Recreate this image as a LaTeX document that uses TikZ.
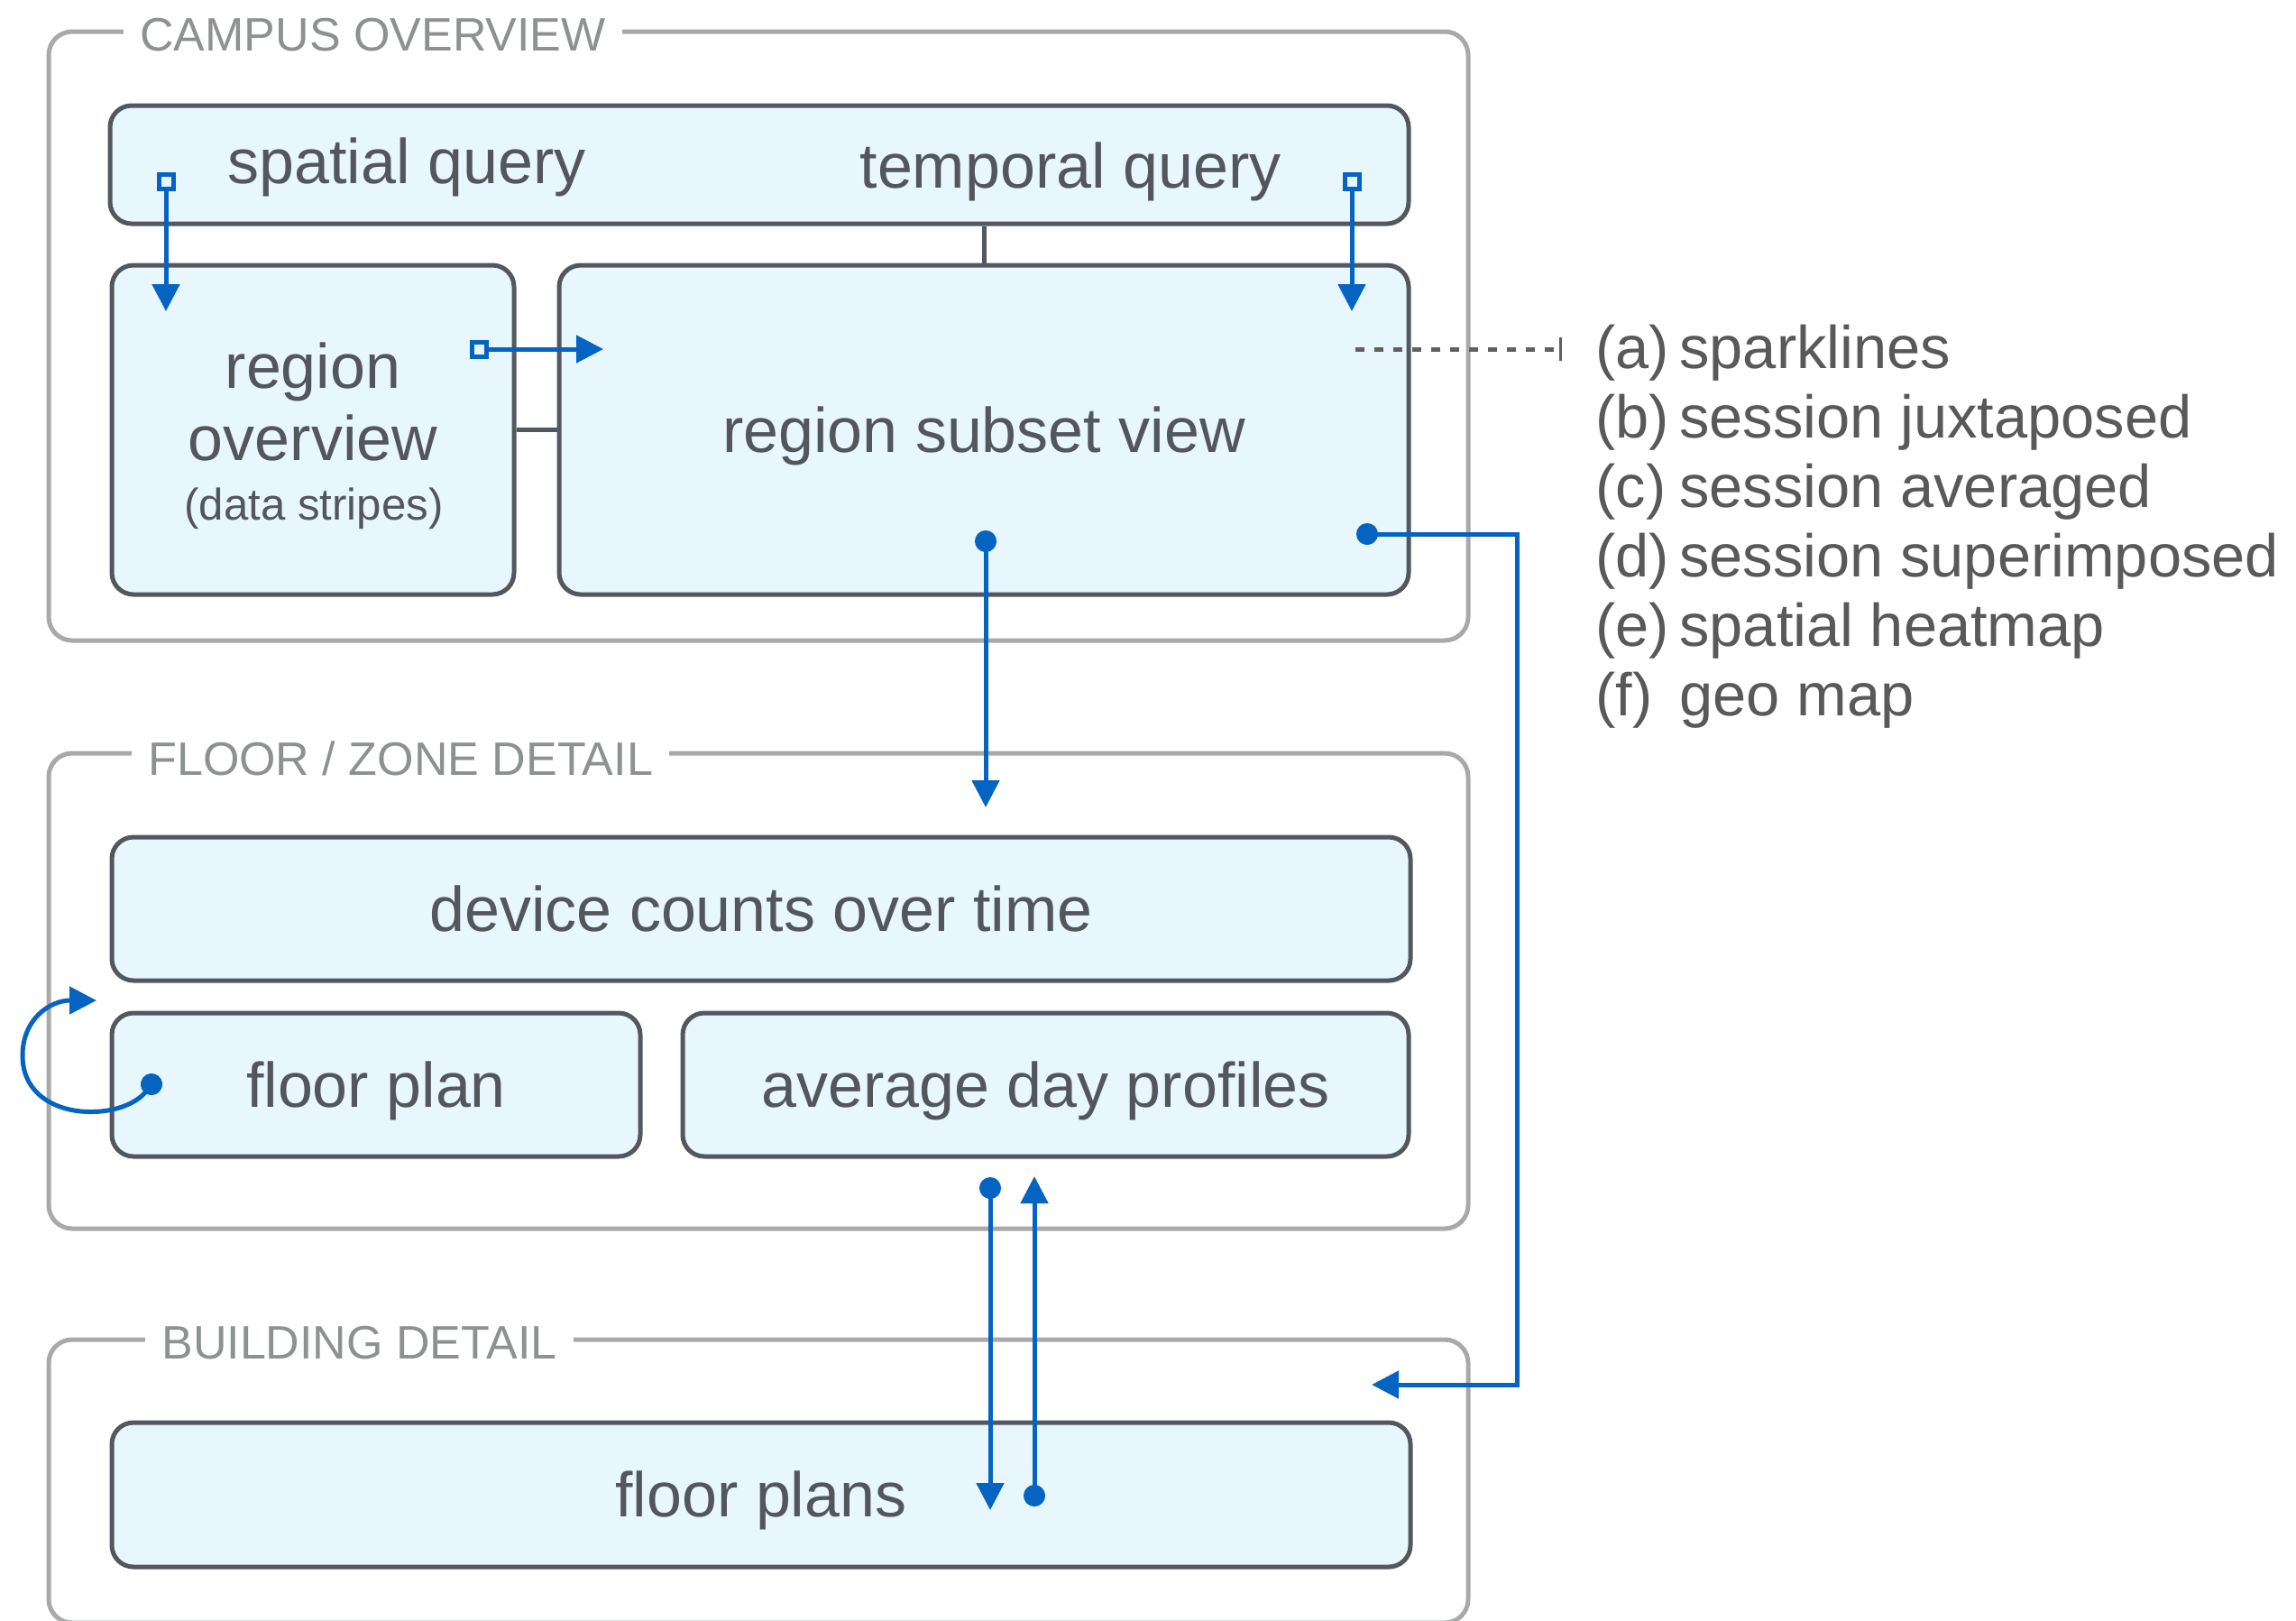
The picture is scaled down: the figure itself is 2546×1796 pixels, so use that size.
\documentclass[tikz,border=0pt]{standalone}
\usepackage{fontspec}
\setmainfont{Liberation Sans}
\usetikzlibrary{arrows.meta,calc}
\definecolor{boxfill}{HTML}{E8F6FE}
\definecolor{boxline}{HTML}{53575E}
\definecolor{frameline}{HTML}{A8AAA9}
\definecolor{titlegray}{HTML}{8E9192}
\definecolor{txt}{HTML}{52575D}
\definecolor{legtxt}{HTML}{595959}
\definecolor{linkblue}{HTML}{0563C1}
\definecolor{dotgray}{HTML}{5F6064}
\begin{document}
\begin{tikzpicture}[x=0.5pt,y=-0.5pt,
  frame/.style={draw=frameline, line width=2.5pt, rounded corners=13pt, inner sep=0pt},
  title/.style={fill=white, text=titlegray, font=\fontsize{26}{30}\selectfont, inner xsep=9pt, inner ysep=2pt},
  box/.style={draw=boxline, fill=boxfill, line width=2.5pt, rounded corners=12pt, inner sep=0pt},
  boxtext/.style={text=txt, font=\fontsize{35}{42}\selectfont, text height=30pt, text depth=5.5pt},
  lbl/.style={text=txt, font=\fontsize{35}{42}\selectfont, inner sep=0pt},
  smalllbl/.style={text=txt, font=\fontsize{24.6}{30}\selectfont, inner sep=0pt},
  legk/.style={text=legtxt, font=\fontsize{33.4}{40}\selectfont, inner sep=0pt},
  link/.style={draw=boxline, line width=2.5pt},
  flow/.style={draw=linkblue, line width=2.5pt},
  sqstart/.style={{Square[open,length=10.5pt,width=10.5pt]}-{Triangle[length=15pt,width=15pt]}, shorten <=-5.25pt},
  dotstart/.style={{Circle[length=12pt]}-{Triangle[length=15pt,width=15pt]}, shorten <=-6pt},
  dotlink/.style={draw=dotgray, line width=2.5pt, dash pattern=on 5pt off 5.5pt, -{Bar[width=13pt,line width=1.6pt]}}
]
\useasboundingbox (0,0) rectangle (2546,1796);

% frames
\node[frame, minimum width=787pt, minimum height=337.5pt] (campus) at (841,372.5) {};
\node[frame, minimum width=787pt, minimum height=263.5pt] (floorzone) at (841,1098.5) {};
\node[frame, minimum width=787pt, minimum height=157pt] (building) at (841,1642) {};
\node[title, anchor=base west] (tcampus) at (137,56) {CAMPUS OVERVIEW};
\node[title, anchor=base west] (tfloor) at (146,859) {FLOOR / ZONE DETAIL};
\node[title, anchor=base west] (tbuild) at (161,1506) {BUILDING DETAIL};

% boxes
\node[box, minimum width=720pt, minimum height=65.5pt] (query) at (842,182.5) {};
\node[lbl, anchor=base] (qs) at (451,203) {spatial query};
\node[lbl, anchor=base] (qt) at (1187,208) {temporal query};

\node[box, minimum width=223pt, minimum height=182.5pt] (overview) at (347,476.5) {};
\node[lbl, anchor=base] (ov1) at (347,430) {region};
\node[lbl, anchor=base] (ov2) at (347,510) {overview};
\node[smalllbl, anchor=base] (ov3) at (348,576) {(data stripes)};

\node[box, boxtext, minimum width=471pt, minimum height=182.5pt] (subset) at (1091,476.5) {region subset view};

\node[box, boxtext, minimum width=720pt, minimum height=79.5pt] (device) at (844,1007.5) {device counts over time};
\node[box, boxtext, minimum width=293pt, minimum height=79.5pt] (floorplan) at (417,1202.5) {floor plan};
\node[box, boxtext, minimum width=402.5pt, minimum height=79.5pt] (avgday) at (1159.5,1202.5) {average day profiles};
\node[box, boxtext, minimum width=720pt, minimum height=80pt] (floorplans) at (844,1657) {floor plans};

% gray structural links
\draw[link] (subset.north) -- (subset.north |- query.south);
\draw[link] (overview.east) -- (subset.west);

% legend
\foreach \k/\w [count=\i from 0] in {a/sparklines, b/session juxtaposed, c/session averaged, d/session superimposed, e/spatial heatmap, f/geo map} {
  \node[legk, anchor=base west] (lk\k) at (1769,{408+77*\i}) {(\k)};
  \node[legk, anchor=base west] (lw\k) at (1862,{408+77*\i}) {\w};
}

% connector end points
\coordinate (sqA) at (184,201);
\coordinate (tipA) at (184,345);
\coordinate (sqB) at (1499,201);
\coordinate (tipB) at (1499,345);
\coordinate (sqC) at (531,387);
\coordinate (tipC) at (669,387);
\coordinate (dsS) at (1503,387);
\coordinate (dsE) at (1732,387);
\coordinate (dotD) at (1516,592);
\coordinate (bendD) at (1682,1535);
\coordinate (tipD) at (1521,1535);
\coordinate (dotE) at (1093,600);
\coordinate (tipE) at (1093,895);
\coordinate (dotF) at (168,1202);
\coordinate (tipF) at (107,1109);
\coordinate (dotG) at (1098,1317);
\coordinate (tipG) at (1098,1674);
\coordinate (dotH) at (1147,1658);
\coordinate (tipH) at (1147,1304);

% blue flows
\draw[flow, sqstart] (sqA) -- (tipA);
\draw[flow, sqstart] (sqB) -- (tipB);
\draw[flow, sqstart] (sqC) -- (tipC);
\draw[dotlink] (dsS) -- (dsE);
\draw[flow, dotstart] (dotD) -| (bendD) -- (tipD);
\draw[flow, dotstart] (dotE) -- (tipE);
\draw[flow, dotstart] (dotF) .. controls (135,1245) and (25,1245) .. (25,1170) .. controls (25,1130) and (55,1109) .. (tipF);
\draw[flow, dotstart] (dotG) -- (tipG);
\draw[flow, dotstart] (dotH) -- (tipH);
\end{tikzpicture}
\end{document}
